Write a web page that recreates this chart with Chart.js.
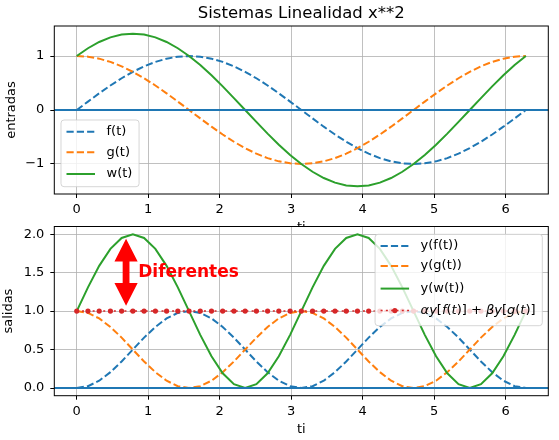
<!DOCTYPE html>
<html>
<head>
<meta charset="utf-8">
<script src="https://cdn.jsdelivr.net/npm/chart.js@4.4.0/dist/chart.umd.min.js"></script>
<style>
  html, body { margin: 0; padding: 0; background: #fff; }
  #wrap { position: relative; width: 559px; height: 440px; overflow: hidden; }
  .box { position: absolute; left: 0; width: 559px; }
  #topBox { top: 0; height: 240px; }
  #botBox { top: 220px; height: 220px; }
</style>
</head>
<body>
<div id="wrap">
  <div class="box" id="topBox"><canvas id="chartTop"></canvas></div>
  <div class="box" id="botBox"><canvas id="chartBot"></canvas></div>
</div>
<script>
"use strict";

// sample times (0 .. 2pi, 41 points)
const ti = [0, 0.157, 0.314, 0.471, 0.628, 0.785, 0.942, 1.100, 1.257, 1.414, 1.571,
    1.728, 1.885, 2.042, 2.199, 2.356, 2.513, 2.670, 2.827, 2.985, 3.142,
    3.299, 3.456, 3.613, 3.770, 3.927, 4.084, 4.241, 4.398, 4.555, 4.712,
    4.869, 5.027, 5.184, 5.341, 5.498, 5.655, 5.812, 5.969, 6.126, 6.283];

// entradas
const fVals = [0, 0.156, 0.309, 0.454, 0.588, 0.707, 0.809, 0.891, 0.951, 0.988, 1,
    0.988, 0.951, 0.891, 0.809, 0.707, 0.588, 0.454, 0.309, 0.156, 0,
    -0.156, -0.309, -0.454, -0.588, -0.707, -0.809, -0.891, -0.951, -0.988, -1,
    -0.988, -0.951, -0.891, -0.809, -0.707, -0.588, -0.454, -0.309, -0.156, 0];
const gVals = [1, 0.988, 0.951, 0.891, 0.809, 0.707, 0.588, 0.454, 0.309, 0.156, 0,
    -0.156, -0.309, -0.454, -0.588, -0.707, -0.809, -0.891, -0.951, -0.988, -1,
    -0.988, -0.951, -0.891, -0.809, -0.707, -0.588, -0.454, -0.309, -0.156, 0,
    0.156, 0.309, 0.454, 0.588, 0.707, 0.809, 0.891, 0.951, 0.988, 1];
const wVals = [1, 1.144, 1.260, 1.345, 1.397, 1.414, 1.397, 1.345, 1.260, 1.144, 1,
    0.832, 0.642, 0.437, 0.221, 0, -0.221, -0.437, -0.642, -0.832, -1,
    -1.144, -1.260, -1.345, -1.397, -1.414, -1.397, -1.345, -1.260, -1.144, -1,
    -0.832, -0.642, -0.437, -0.221, 0, 0.221, 0.437, 0.642, 0.832, 1];

// salidas
const yfVals = [0, 0.024, 0.095, 0.206, 0.345, 0.5, 0.655, 0.794, 0.905, 0.976, 1,
    0.976, 0.905, 0.794, 0.655, 0.5, 0.345, 0.206, 0.095, 0.024, 0,
    0.024, 0.095, 0.206, 0.345, 0.5, 0.655, 0.794, 0.905, 0.976, 1,
    0.976, 0.905, 0.794, 0.655, 0.5, 0.345, 0.206, 0.095, 0.024, 0];
const ygVals = [1, 0.976, 0.905, 0.794, 0.655, 0.5, 0.345, 0.206, 0.095, 0.024, 0,
    0.024, 0.095, 0.206, 0.345, 0.5, 0.655, 0.794, 0.905, 0.976, 1,
    0.976, 0.905, 0.794, 0.655, 0.5, 0.345, 0.206, 0.095, 0.024, 0,
    0.024, 0.095, 0.206, 0.345, 0.5, 0.655, 0.794, 0.905, 0.976, 1];
const ywVals = [1, 1.309, 1.588, 1.809, 1.951, 2, 1.951, 1.809, 1.588, 1.309, 1,
    0.691, 0.412, 0.191, 0.049, 0, 0.049, 0.191, 0.412, 0.691, 1,
    1.309, 1.588, 1.809, 1.951, 2, 1.951, 1.809, 1.588, 1.309, 1,
    0.691, 0.412, 0.191, 0.049, 0, 0.049, 0.191, 0.412, 0.691, 1];
const sumVals = [1, 1, 1, 1, 1, 1, 1, 1, 1, 1, 1,
    1, 1, 1, 1, 1, 1, 1, 1, 1, 1,
    1, 1, 1, 1, 1, 1, 1, 1, 1, 1,
    1, 1, 1, 1, 1, 1, 1, 1, 1, 1];

// ticks
const xTicks = [0, 1, 2, 3, 4, 5, 6];
const topYTicks = [-1, 0, 1];
const botYTicks = [0, 0.5, 1, 1.5, 2];

// axis limits
const xMin = -0.314, xMax = 6.597;
const topYMin = -1.556, topYMax = 1.556;
const botYMin = -0.1, botYMax = 2.1;

// annotation
const arrowX = 0.69, arrowLo = 1.07, arrowHi = 1.94;
const noteX = 0.86, noteY = 1.5;

const C0 = '#1f77b4', C1 = '#ff7f0e', C2 = '#2ca02c', C3 = '#d62728';
const FONT = '"DejaVu Sans", sans-serif';
const DASH = [7.2, 3.1];

Chart.defaults.font.family = FONT;
Chart.defaults.font.size = 13;
Chart.defaults.color = '#000';

var series = function (vals) {
    return ti.map(function (t, i) { return { x: t, y: vals[i] }; });
};

var line = function (vals, color, dash, order, extra) {
    return Object.assign({
        data: series(vals),
        borderColor: color,
        backgroundColor: color,
        borderWidth: 2,
        borderDash: dash,
        pointRadius: 0,
        tension: 0,
        fill: false,
        order: order
    }, extra || {});
};

var segWidth = function (ctx, segs) {
    var w = 0;
    segs.forEach(function (s) {
        ctx.font = (s[1] === 'i' ? 'italic ' : '') + '13px ' + FONT;
        w += ctx.measureText(s[0]).width;
    });
    return w;
};

var drawSegs = function (ctx, segs, x, y) {
    segs.forEach(function (s) {
        ctx.font = (s[1] === 'i' ? 'italic ' : '') + '13px ' + FONT;
        ctx.fillText(s[0], x, y);
        x += ctx.measureText(s[0]).width;
    });
};

var drawLegend = function (chart, cfg) {
    var ctx = chart.ctx, a = chart.chartArea;
    var maxW = 0;
    cfg.items.forEach(function (it) { maxW = Math.max(maxW, segWidth(ctx, it.segs)); });
    var bw = 45.5 + maxW + 6.7, bh = cfg.height;
    var bx = cfg.loc === 'lower left' ? a.left + 6.7 : a.right - 6 - bw;
    var by = cfg.loc === 'lower left' ? a.bottom - 7.3 - bh : a.top + 7.8;

    ctx.save();
    ctx.beginPath();
    ctx.roundRect(bx, by, bw, bh, 3);
    ctx.fillStyle = 'rgba(255,255,255,0.8)';
    ctx.fill();
    ctx.strokeStyle = 'rgba(204,204,204,0.8)';
    ctx.lineWidth = 1;
    ctx.stroke();

    cfg.items.forEach(function (it, i) {
        var y = by + cfg.rows[i];
        ctx.strokeStyle = it.color;
        ctx.lineWidth = it.width;
        ctx.setLineDash(it.dash);
        ctx.beginPath();
        ctx.moveTo(bx + 5.5, y);
        ctx.lineTo(bx + 34, y);
        ctx.stroke();
        ctx.setLineDash([]);
        if (it.marker) {
            ctx.fillStyle = it.color;
            ctx.beginPath();
            ctx.arc(bx + 19.75, y, it.marker, 0, Math.PI * 2);
            ctx.fill();
        }
        ctx.fillStyle = '#000';
        ctx.textAlign = 'left';
        ctx.textBaseline = 'middle';
        drawSegs(ctx, it.segs, bx + 45.5, y);
    });
    ctx.restore();
};

var drawArrow = function (chart) {
    var ctx = chart.ctx;
    var xs = chart.scales.x, ys = chart.scales.y;
    var x = xs.getPixelForValue(arrowX);
    var yTop = ys.getPixelForValue(arrowHi), yBot = ys.getPixelForValue(arrowLo);
    var hl = 22.7, hh = 11.6, bh = 3.4;
    ctx.save();
    ctx.fillStyle = '#ff0000';
    ctx.beginPath();
    ctx.moveTo(x, yTop);
    ctx.lineTo(x + hh, yTop + hl);
    ctx.lineTo(x + bh, yTop + hl);
    ctx.lineTo(x + bh, yBot - hl);
    ctx.lineTo(x + hh, yBot - hl);
    ctx.lineTo(x, yBot);
    ctx.lineTo(x - hh, yBot - hl);
    ctx.lineTo(x - bh, yBot - hl);
    ctx.lineTo(x - bh, yTop + hl);
    ctx.lineTo(x - hh, yTop + hl);
    ctx.closePath();
    ctx.fill();

    ctx.font = 'bold 17px ' + FONT;
    ctx.textAlign = 'left';
    ctx.textBaseline = 'middle';
    ctx.fillText('Diferentes', xs.getPixelForValue(noteX), ys.getPixelForValue(noteY));
    ctx.restore();
};

// matplotlib-like axes: white face, axhline at 0, frame, title, legend
var mplAxes = {
    id: 'mplAxes',
    beforeDraw: function (chart) {
        var a = chart.chartArea, ctx = chart.ctx;
        ctx.save();
        ctx.fillStyle = '#fff';
        ctx.fillRect(a.left, a.top, a.right - a.left, a.bottom - a.top);
        ctx.restore();
    },
    afterDatasetsDraw: function (chart, args, opts) {
        var a = chart.chartArea, ctx = chart.ctx;
        var y0 = chart.scales.y.getPixelForValue(0);
        ctx.save();
        ctx.strokeStyle = C0;
        ctx.lineWidth = 2;
        ctx.beginPath();
        ctx.moveTo(a.left, y0);
        ctx.lineTo(a.right, y0);
        ctx.stroke();
        ctx.restore();
        if (opts.arrow) drawArrow(chart);
        ctx.save();
        ctx.strokeStyle = '#000';
        ctx.lineWidth = 1;
        ctx.strokeRect(a.left, a.top, a.right - a.left, a.bottom - a.top);
        ctx.restore();
    },
    afterDraw: function (chart, args, opts) {
        var a = chart.chartArea, ctx = chart.ctx;
        if (opts.title) {
            ctx.save();
            ctx.font = '16.5px ' + FONT;
            ctx.fillStyle = '#000';
            ctx.textAlign = 'center';
            ctx.textBaseline = 'alphabetic';
            ctx.fillText(opts.title, (a.left + a.right) / 2, 18.3);
            ctx.restore();
        }
        if (opts.legend) drawLegend(chart, opts.legend);
    }
};

// labels may hang outside the plot area, as in matplotlib
var noPad = function (s) {
    s.paddingTop = 0;
    s.paddingBottom = 0;
    s.paddingLeft = 0;
    s.paddingRight = 0;
};

var xAxis = function (h, axisBottom, titlePad) {
    return {
        type: 'linear',
        min: xMin,
        max: xMax,
        afterBuildTicks: function (s) { s.ticks = xTicks.map(function (v) { return { value: v }; }); },
        afterFit: function (s) { s.height = h - axisBottom; noPad(s); },
        grid: { color: '#b0b0b0', lineWidth: 0.8, tickColor: '#000', tickWidth: 1, tickLength: 4 },
        border: { display: false },
        ticks: { padding: 4, maxRotation: 0, autoSkip: false, callback: function (v) { return String(v); } },
        title: { display: true, text: 'ti', padding: { top: 0, bottom: titlePad } }
    };
};

var yAxis = function (min, max, tickVals, label, labelPad, fmt) {
    return {
        type: 'linear',
        min: min,
        max: max,
        afterBuildTicks: function (s) { s.ticks = tickVals.map(function (v) { return { value: v }; }); },
        afterFit: function (s) { s.width = 54.3; noPad(s); },
        grid: { color: '#b0b0b0', lineWidth: 0.8, tickColor: '#000', tickWidth: 1, tickLength: 4 },
        border: { display: false },
        ticks: { padding: 6, autoSkip: false, callback: fmt },
        title: { display: true, text: label, padding: { top: labelPad, bottom: 0 } }
    };
};

var baseOptions = function () {
    return {
        responsive: true,
        maintainAspectRatio: false,
        animation: false,
        events: [],
        plugins: { legend: { display: false }, tooltip: { enabled: false }, title: { display: false } }
    };
};

var initTop = function () {
    var el = document.getElementById('chartTop');
    var opts = baseOptions();
    opts.layout = { padding: { left: 0, top: 26, right: 10.7, bottom: 0 } };
    opts.scales = {
        x: xAxis(240, 194, 4.2),
        y: yAxis(topYMin, topYMax, topYTicks, 'entradas', 4,
            function (v) { return v < 0 ? '\u2212' + Math.abs(v) : String(v); })
    };
    opts.plugins.mplAxes = {
        title: 'Sistemas Linealidad x**2',
        legend: {
            loc: 'lower left',
            height: 66.7,
            rows: [11.7, 32.3, 54],
            items: [
                { segs: [['f(t)', 'n']], color: C0, dash: DASH, width: 2 },
                { segs: [['g(t)', 'n']], color: C1, dash: DASH, width: 2 },
                { segs: [['w(t)', 'n']], color: C2, dash: [], width: 2 }
            ]
        }
    };
    new Chart(el, {
        type: 'line',
        data: {
            datasets: [
                line(fVals, C0, DASH, 3),
                line(gVals, C1, DASH, 2),
                line(wVals, C2, [], 1)
            ]
        },
        options: opts,
        plugins: [mplAxes]
    });
};

var initBottom = function () {
    var el = document.getElementById('chartBot');
    var opts = baseOptions();
    opts.layout = { padding: { left: 0, top: 6.5, right: 10.7, bottom: 0 } };
    opts.scales = {
        x: xAxis(220, 175.7, 2.2),
        y: yAxis(botYMin, botYMax, botYTicks, 'salidas', 1,
            function (v) { return v.toFixed(1); })
    };
    opts.plugins.mplAxes = {
        arrow: true,
        legend: {
            loc: 'upper right',
            height: 91.4,
            rows: [11.7, 31.6, 54.3, 76.3],
            items: [
                { segs: [['y(f(t))', 'n']], color: C0, dash: DASH, width: 2 },
                { segs: [['y(g(t))', 'n']], color: C1, dash: DASH, width: 2 },
                { segs: [['y(w(t))', 'n']], color: C2, dash: [], width: 2 },
                {
                    segs: [['\u03b1y', 'i'], ['[', 'n'], ['f', 'i'], ['(', 'n'], ['t', 'i'], [')] + ', 'n'],
                        ['\u03b2y', 'i'], ['[', 'n'], ['g', 'i'], ['(', 'n'], ['t', 'i'], [')]', 'n']],
                    color: C3, dash: [2, 3.3], width: 1.5, marker: 2.6
                }
            ]
        }
    };
    new Chart(el, {
        type: 'line',
        data: {
            datasets: [
                line(yfVals, C0, DASH, 3),
                line(ygVals, C1, DASH, 2),
                line(ywVals, C2, [], 1),
                line(sumVals, C3, [2, 3.3], 0, {
                    borderWidth: 1.5,
                    pointRadius: 2.6,
                    pointBorderWidth: 0,
                    pointBackgroundColor: C3
                })
            ]
        },
        options: opts,
        plugins: [mplAxes]
    });
};

initTop();
initBottom();
</script>
</body>
</html>
